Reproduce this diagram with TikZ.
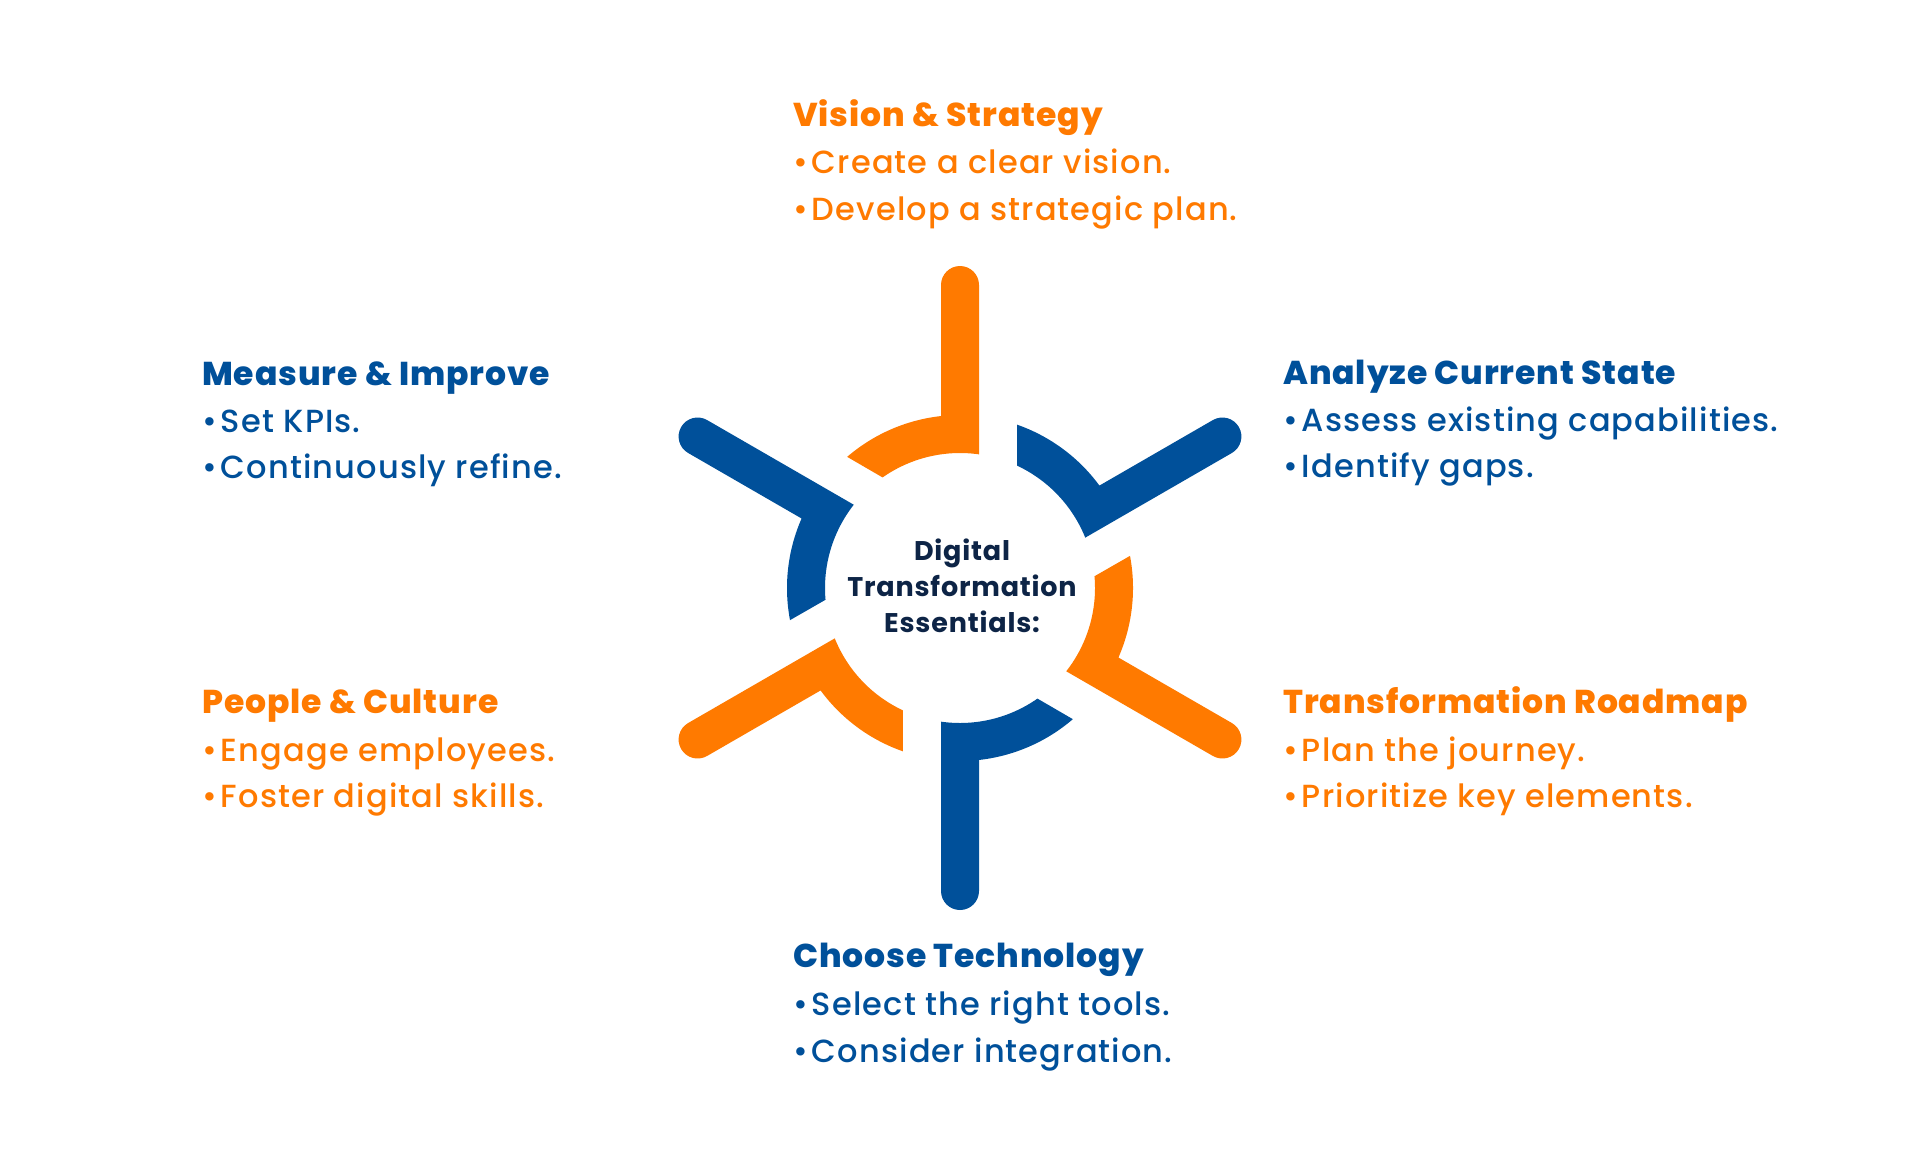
\documentclass[tikz,border=0pt]{standalone}
\usepackage{fontspec}
\setmainfont{Poppins}
\newfontfamily\headfont{Poppins}[UprightFont=* ExtraBold, LetterSpace=2.8]
\newfontfamily\itemfont{Poppins}[UprightFont=* Medium, LetterSpace=3.5]
\newfontfamily\centfont{Poppins}[UprightFont=* Bold, LetterSpace=3.0]
\definecolor{dtorange}{HTML}{FF7A00}
\definecolor{dtblue}{HTML}{00509A}
\definecolor{dtnavy}{HTML}{0D2446}
\newcommand{\bul}{\textbullet\hspace{4pt}}
\begin{document}
\begin{tikzpicture}[x=1pt,y=1pt,
  head/.style={anchor=base west, inner sep=0pt, font=\fontsize{33}{40}\headfont},
  item/.style={anchor=base west, inner sep=0pt, font=\fontsize{32}{40}\itemfont},
  ctext/.style={anchor=base, inner sep=0pt, font=\fontsize{27}{30}\centfont, text=dtnavy}]
\useasboundingbox[fill=white] (0,0) rectangle (1920,-1171);

% wheel segments
\foreach \ang/\col in {90/dtorange,30/dtblue,-30/dtorange,-90/dtblue,-150/dtorange,150/dtblue}{
  \begin{scope}[shift={(960,-588)},rotate=\ang-90]
    \fill[\col] (19,133.66) -- (19,303) arc[start angle=0,end angle=180,radius=19]
      -- (-19,171.95) arc[start angle=96.30,end angle=130.7,radius=173]
      -- (125.0:135) arc[start angle=125.0,end angle=81.9,radius=135] -- cycle;
  \end{scope}
}

% centre text
\node[ctext] (c1) at (962,-560) {Digital};
\node[ctext] (c2) at (962,-596) {Transformation};
\node[ctext] (c3) at (962,-632) {Essentials:};

% Vision & Strategy
\node[head,text=dtorange] (vsh) at (793,-126) {Vision \& Strategy};
\node[item,text=dtorange] (vs1) at (793,-173) {\bul Create a clear vision.};
\node[item,text=dtorange] (vs2) at (793,-220) {\bul Develop a strategic plan.};

% Measure & Improve
\node[head,text=dtblue] (mih) at (202,-385) {Measure \& Improve};
\node[item,text=dtblue] (mi1) at (202,-432) {\bul Set KPIs.};
\node[item,text=dtblue] (mi2) at (202,-478) {\bul Continuously refine.};

% Analyze Current State
\node[head,text=dtblue] (ach) at (1283,-384) {Analyze Current State};
\node[item,text=dtblue] (ac1) at (1283,-431) {\bul Assess existing capabilities.};
\node[item,text=dtblue] (ac2) at (1283,-477) {\bul Identify gaps.};

% People & Culture
\node[head,text=dtorange] (pch) at (202,-713) {People \& Culture};
\node[item,text=dtorange] (pc1) at (202,-761) {\bul Engage employees.};
\node[item,text=dtorange] (pc2) at (202,-807) {\bul Foster digital skills.};

% Transformation Roadmap
\node[head,text=dtorange] (trh) at (1283,-713) {Transformation Roadmap};
\node[item,text=dtorange] (tr1) at (1283,-761) {\bul Plan the journey.};
\node[item,text=dtorange] (tr2) at (1283,-807) {\bul Prioritize key elements.};

% Choose Technology
\node[head,text=dtblue] (cth) at (793,-967) {Choose Technology};
\node[item,text=dtblue] (ct1) at (793,-1015) {\bul Select the right tools.};
\node[item,text=dtblue] (ct2) at (793,-1062) {\bul Consider integration.};
\end{tikzpicture}
\end{document}
